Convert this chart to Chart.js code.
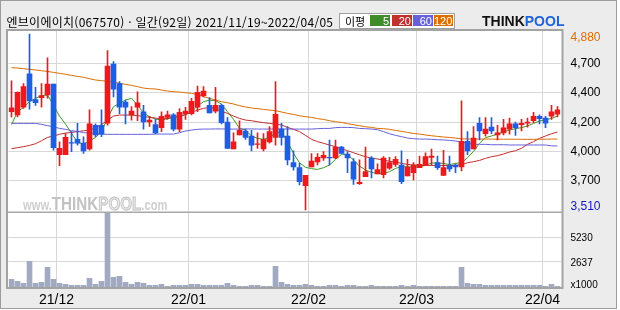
<!DOCTYPE html>
<html lang="ko">
<head>
<meta charset="utf-8">
<script src="https://cdn.jsdelivr.net/npm/chart.js@4.4.1/dist/chart.umd.min.js"></script>
<style>
  html, body { margin: 0; padding: 0; background: #fff; }
  #wrap { position: relative; width: 620px; height: 310px; overflow: hidden; }
  #c { position: absolute; left: 0; top: 0; }
  .h { position: absolute; top: 13px; height: 18px; line-height: 18px; white-space: nowrap;
       font-family: "Noto Sans CJK KR", sans-serif; font-size: 12px; color: #000; }
  #legend { position: absolute; left: 339px; top: 13px; width: 114px; height: 14px;
            border: 1px solid #a0a0a0; background: #fff; }
  #legend .lt { position: absolute; left: 5px; top: -2px; line-height: 18px;
                font-family: "Noto Sans CJK KR", sans-serif; font-size: 11px; }
  #legend .b { position: absolute; top: 1px; height: 11px; line-height: 12px; color: #fff; text-align: right;
               font-family: "Liberation Sans", Arial, sans-serif; font-size: 11px; padding-right: 1px; box-sizing: border-box; }
  #logo { position: absolute; left: 482px; top: 13px; line-height: 16px; white-space: nowrap;
          font-family: "Liberation Sans", Arial, sans-serif; font-weight: bold; font-size: 14px; }
  #logo .k { color: #111; }
  #logo .p { color: #1f63d6; }
</style>
</head>
<body>
<div id="wrap">
  <canvas id="c" width="620" height="310"></canvas>
  <span class="h" data-x0="6.5" data-x1="333">엔브이에이치(067570) · 일간(92일) 2021/11/19~2022/04/05</span>
  <div id="legend">
    <span class="lt">이평</span>
    <span class="b" style="left:30px;width:20px;background:#3f8c2c">5</span>
    <span class="b" style="left:52px;width:20px;background:#c0302c">20</span>
    <span class="b" style="left:73px;width:20px;background:#6660dc">60</span>
    <span class="b" style="left:94px;width:19px;background:#dc6e00">120</span>
  </div>
  <div id="logo"><span class="k">THINK</span><span class="p">POOL</span></div>
</div>
<script>
const dates = [
  '2021/11/19','2021/11/22','2021/11/23','2021/11/24','2021/11/25','2021/11/26','2021/11/29','2021/11/30',
  '2021/12/01','2021/12/02','2021/12/03','2021/12/06','2021/12/07','2021/12/08','2021/12/09','2021/12/10',
  '2021/12/13','2021/12/14','2021/12/15','2021/12/16','2021/12/17','2021/12/20','2021/12/21','2021/12/22',
  '2021/12/23','2021/12/24','2021/12/27','2021/12/28','2021/12/29','2021/12/30',
  '2022/01/03','2022/01/04','2022/01/05','2022/01/06','2022/01/07','2022/01/10','2022/01/11','2022/01/12',
  '2022/01/13','2022/01/14','2022/01/17','2022/01/18','2022/01/19','2022/01/20','2022/01/21','2022/01/24',
  '2022/01/25','2022/01/26','2022/01/27','2022/01/28',
  '2022/02/03','2022/02/04','2022/02/07','2022/02/08','2022/02/09','2022/02/10','2022/02/11','2022/02/14',
  '2022/02/15','2022/02/16','2022/02/17','2022/02/18','2022/02/21','2022/02/22','2022/02/23','2022/02/24',
  '2022/02/25','2022/02/28',
  '2022/03/02','2022/03/03','2022/03/04','2022/03/07','2022/03/08','2022/03/10','2022/03/11','2022/03/14',
  '2022/03/15','2022/03/16','2022/03/17','2022/03/18','2022/03/21','2022/03/22','2022/03/23','2022/03/24',
  '2022/03/25','2022/03/28','2022/03/29','2022/03/30','2022/03/31',
  '2022/04/01','2022/04/04','2022/04/05'
];

const open = [
  4275, 4250, 4310, 4570, 4370, 4385, 4405, 4490, 3940, 3940,
  4035, 4060, 4030, 3985, 4170, 4170, 4185, 4645, 4495, 4350,
  4250, 4310, 4275, 4195, 4175, 4150, 4230, 4250, 4140, 4260,
  4260, 4310, 4400, 4325, 4280, 4325, 4195, 3985, 4095, 4125,
  4085, 4020, 3985, 4040, 4075, 4140, 4085, 3880, 3840, 3700,
  3845, 3885, 3915, 3920, 3915, 4000, 3945, 3885, 3715, 3770,
  3915, 3790, 3785, 3835, 3865, 3860, 3775, 3800, 3840, 3855,
  3920, 3880, 3780, 3855, 3860, 3845, 4045, 3985, 4185, 4105,
  4155, 4095, 4110, 4140, 4180, 4175, 4185, 4205, 4240, 4225,
  4240, 4255
];
const high = [
  4515, 4430, 4495, 4880, 4465, 4495, 4695, 4490, 4040, 4105,
  4120, 4185, 4080, 4290, 4180, 4290, 4750, 4665, 4510, 4365,
  4315, 4430, 4325, 4240, 4215, 4275, 4280, 4260, 4300, 4310,
  4380, 4475, 4470, 4385, 4465, 4335, 4230, 4110, 4205, 4140,
  4130, 4110, 4105, 4160, 4510, 4185, 4160, 3970, 3875, 3780,
  3950, 3950, 3965, 4055, 4055, 4005, 3965, 3910, 3900, 4000,
  3925, 3870, 3925, 3920, 3925, 3970, 3905, 3880, 3930, 3955,
  3985, 3930, 3975, 3930, 3870, 4360, 4120, 4160, 4230, 4230,
  4230, 4170, 4215, 4225, 4195, 4215, 4225, 4270, 4250, 4240,
  4325, 4315
];
const low = [
  4235, 4235, 4300, 4295, 4325, 4310, 4380, 3975, 3855, 3940,
  3965, 4015, 3950, 3975, 4080, 4080, 4170, 4390, 4260, 4180,
  4210, 4205, 4140, 4160, 4105, 4120, 4215, 4125, 4120, 4215,
  4250, 4275, 4390, 4265, 4265, 4180, 3990, 3985, 4095, 4060,
  3970, 3990, 3970, 4030, 4015, 4015, 3860, 3820, 3705, 3510,
  3845, 3860, 3895, 3860, 3910, 3950, 3800, 3710, 3710, 3770,
  3760, 3790, 3760, 3825, 3850, 3715, 3775, 3745, 3840, 3855,
  3860, 3825, 3780, 3810, 3800, 3815, 3940, 3985, 4055, 4085,
  4105, 4055, 4095, 4100, 4090, 4125, 4155, 4190, 4180, 4150,
  4215, 4235
];
const close = [
  4305, 4425, 4470, 4360, 4345, 4400, 4490, 3995, 3990, 4075,
  4030, 4030, 3970, 4180, 4095, 4100, 4630, 4450, 4310, 4310,
  4280, 4345, 4195, 4210, 4110, 4240, 4250, 4140, 4270, 4280,
  4355, 4425, 4435, 4265, 4325, 4190, 3990, 4040, 4130, 4075,
  4015, 4025, 4060, 4120, 4255, 4075, 3900, 3845, 3730, 3780,
  3890, 3920, 3935, 3915, 4000, 3950, 3915, 3750, 3725, 3810,
  3830, 3825, 3915, 3880, 3905, 3730, 3845, 3860, 3865, 3925,
  3930, 3840, 3840, 3830, 3845, 4045, 3970, 4070, 4125, 4140,
  4125, 4110, 4150, 4180, 4150, 4185, 4195, 4240, 4220, 4185,
  4275, 4290
];
// volume in thousands of shares
const volume = [
  803, 593, 384, 2687, 384, 489, 2059, 803, 384, 279,
  175, 175, 175, 907, 279, 593, 7845, 1012, 1117, 489,
  279, 489, 384, 175, 175, 279, 70, 175, 175, 175,
  279, 279, 175, 175, 175, 175, 384, 175, 70, 70,
  175, 175, 70, 70, 2164, 489, 279, 175, 175, 279,
  175, 70, 70, 175, 175, 70, 175, 175, 70, 70,
  175, 70, 70, 70, 70, 175, 70, 175, 70, 70,
  70, 70, 70, 70, 70, 2059, 384, 279, 279, 175,
  175, 175, 175, 175, 175, 175, 175, 175, 175, 70,
  279, 70
];
const ma5 = [
  4175, 4275, 4309, 4353, 4379, 4400, 4405, 4327, 4241, 4179,
  4107, 4037, 4024, 4047, 4075, 4120, 4225, 4314, 4340, 4366,
  4379, 4327, 4267, 4236, 4218, 4210, 4221, 4231, 4239, 4252,
  4275, 4319, 4353, 4366, 4361, 4335, 4275, 4216, 4145, 4132,
  4086, 4068, 4060, 4075, 4107, 4120, 4042, 3951, 3878, 3842,
  3832, 3826, 3839, 3860, 3904, 3943, 3943, 3899, 3852, 3821,
  3803, 3795, 3795, 3808, 3834, 3847, 3847, 3842, 3847, 3857,
  3876, 3876, 3873, 3863, 3873, 3878, 3917, 3966, 4029, 4073,
  4086, 4101, 4117, 4132, 4143, 4151, 4164, 4184, 4203, 4213,
  4223, 4241
];
const ma20 = [
  3987, 3995, 4003, 4013, 4026, 4049, 4075, 4086, 4099, 4109,
  4114, 4120, 4127, 4132, 4151, 4174, 4210, 4241, 4249, 4249,
  4249, 4244, 4239, 4231, 4226, 4218, 4223, 4231, 4241, 4254,
  4270, 4288, 4301, 4309, 4299, 4278, 4262, 4241, 4223, 4210,
  4205, 4197, 4190, 4184, 4179, 4171, 4153, 4138, 4120, 4091,
  4060, 4042, 4029, 4016, 4003, 3987, 3972, 3956, 3940, 3925,
  3914, 3907, 3899, 3889, 3883, 3873, 3865, 3860, 3857, 3857,
  3857, 3856, 3856, 3857, 3857, 3863, 3878, 3886, 3896, 3912,
  3925, 3933, 3946, 3961, 3972, 3990, 4021, 4042, 4068, 4086,
  4104, 4117
];
const ma60 = [
  4184, 4184, 4184, 4184, 4184, 4177, 4166, 4158, 4145, 4138,
  4127, 4122, 4112, 4109, 4106, 4101, 4099, 4099, 4099, 4099,
  4099, 4099, 4099, 4099, 4101, 4101, 4101, 4101, 4112, 4125,
  4132, 4138, 4140, 4140, 4141, 4141, 4140, 4140, 4140, 4141,
  4141, 4140, 4140, 4140, 4141, 4141, 4140, 4140, 4140, 4140,
  4140, 4143, 4145, 4145, 4151, 4153, 4153, 4151, 4145, 4143,
  4140, 4135, 4120, 4104, 4091, 4081, 4070, 4065, 4062, 4062,
  4060, 4057, 4055, 4052, 4047, 4039, 4029, 4021, 4021, 4021,
  4018, 4018, 4018, 4016, 4016, 4016, 4016, 4016, 4016, 4016,
  4010, 4008
];
const ma120 = [
  4618, 4615, 4610, 4605, 4600, 4594, 4589, 4581, 4574, 4566,
  4558, 4550, 4543, 4532, 4522, 4517, 4511, 4506, 4496, 4488,
  4480, 4470, 4459, 4454, 4452, 4444, 4436, 4431, 4428, 4423,
  4418, 4408, 4392, 4379, 4366, 4353, 4345, 4335, 4322, 4312,
  4304, 4299, 4293, 4288, 4283, 4273, 4262, 4254, 4244, 4236,
  4231, 4221, 4215, 4205, 4197, 4192, 4182, 4174, 4166, 4158,
  4153, 4145, 4143, 4138, 4130, 4122, 4114, 4106, 4101, 4094,
  4088, 4083, 4078, 4075, 4070, 4064, 4063, 4063, 4062, 4062,
  4062, 4061, 4061, 4061, 4061, 4060, 4060, 4060, 4061, 4061,
  4062, 4062
];
const volTicks = [2637, 5230];

const UP = '#f0181c', DOWN = '#1e5ee6';
const candleColor = close.map((c, i) => c >= open[i] ? UP : DOWN);
const hi = Math.max(...high), lo = Math.min(...low);
// 6 equal bands between the period low and high
const priceGrid = [1, 2, 3, 4, 5].map(k => lo + k * (hi - lo) / 6);
const monthStart = dates.map((d, i) => i > 0 && d.slice(5, 7) !== dates[i - 1].slice(5, 7));
const fmt = n => n.toLocaleString('en-US');

// header text fitting
document.querySelectorAll('.h').forEach(el => {
  const x0 = +el.dataset.x0, x1 = +el.dataset.x1;
  el.style.left = x0 + 'px';
  const n = el.textContent.length;
  const w = el.getBoundingClientRect().width;
  el.style.letterSpacing = ((x1 - x0 - w) / (n - 1)) + 'px';
});

const panelBg = {
  id: 'panelBg',
  beforeDraw(chart) {
    const ctx = chart.ctx, a = chart.chartArea;
    ctx.save();
    ctx.fillStyle = '#fff';
    ctx.fillRect(0, 0, chart.width, chart.height);
    ctx.fillStyle = '#ececec';
    ctx.fillRect(0, 0, 617, 309);
    ctx.fillStyle = '#fff';
    ctx.fillRect(a.left - 1, a.top, a.width + 3, a.height);
    ctx.restore();
  },
  beforeDatasetsDraw(chart) {
    // watermark
    const ctx = chart.ctx, y = chart.scales.y;
    const base = y.bottom - 2;
    ctx.save();
    ctx.translate(23, base);
    ctx.scale(0.8, 1);
    let x = 0;
    ctx.textBaseline = 'alphabetic';
    ctx.font = 'bold 14px "Liberation Sans", Arial, sans-serif';
    ctx.fillStyle = '#cfcfcf';
    ctx.fillText('www.', x, 0);
    x += ctx.measureText('www.').width;
    ctx.font = 'bold 19px "Liberation Sans", Arial, sans-serif';
    ctx.fillStyle = '#c2c2c2';
    ctx.fillText('THINK', x, 0);
    x += ctx.measureText('THINK').width;
    ctx.fillStyle = '#e8e8e8';
    ctx.strokeStyle = '#c2c2c2';
    ctx.lineWidth = 1;
    ctx.fillText('POOL', x, 0);
    ctx.strokeText('POOL', x, 0);
    x += ctx.measureText('POOL').width;
    ctx.font = 'bold 14px "Liberation Sans", Arial, sans-serif';
    ctx.fillStyle = '#cfcfcf';
    ctx.fillText('.com', x, 0);
    ctx.restore();
  },
  afterDraw(chart) {
    const ctx = chart.ctx, a = chart.chartArea, y = chart.scales.y, v = chart.scales.yv;
    ctx.save();
    // frame + separator
    ctx.strokeStyle = '#a3a3a3';
    ctx.lineWidth = 2;
    ctx.strokeRect(7, 30, a.right + 2 - 7, a.bottom + 1 - 30);
    ctx.fillStyle = '#a8a8a8';
    ctx.fillRect(8, y.bottom - 0.5, a.right - 6, 1.5);
    ctx.strokeStyle = '#9c9c9c';
    ctx.lineWidth = 1;
    ctx.strokeRect(0.5, 0.5, 616, 308);
    // right axis labels
    const x = a.right + 10;
    ctx.textAlign = 'left';
    ctx.textBaseline = 'middle';
    ctx.font = '12px "Liberation Sans", Arial, sans-serif';
    ctx.fillStyle = '#000';
    priceGrid.forEach(p => ctx.fillText(fmt(Math.round(p / 100) * 100), x, y.getPixelForValue(p) + 0.5));
    ctx.fillStyle = '#dc6e00';
    ctx.fillText(fmt(hi), x, Math.max(y.getPixelForValue(hi), y.top + 7));
    ctx.fillStyle = '#1414c0';
    ctx.fillText(fmt(lo), x, Math.min(y.getPixelForValue(lo), y.bottom - 5));
    ctx.font = '10px "Liberation Sans Narrow", "Liberation Sans", Arial, sans-serif';
    ctx.fillStyle = '#000';
    volTicks.forEach(t => ctx.fillText(String(t), x, v.getPixelForValue(t) + 1.5));
    ctx.fillText('x1000', x, v.bottom - 1.5);
    ctx.restore();
  }
};

const maLine = (data, color) => ({
  type: 'line', data, yAxisID: 'y', borderColor: color, borderWidth: 1,
  pointRadius: 0, tension: 0, order: 3
});

new Chart(document.getElementById('c'), {
  type: 'bar',
  data: {
    labels: dates,
    datasets: [
      { data: volume, yAxisID: 'yv', backgroundColor: '#a2aac2', barThickness: 5, grouped: false, order: 5 },
      maLine(ma120, '#dc6e00'),
      maLine(ma60, '#6660dc'),
      maLine(ma20, '#c0302c'),
      maLine(ma5, '#3c9a28'),
      { data: low.map((l, i) => [l, high[i]]), yAxisID: 'y', backgroundColor: candleColor,
        barThickness: 1, grouped: false, order: 2 },
      { data: open.map((o, i) => [o, close[i]]), yAxisID: 'y', backgroundColor: candleColor,
        barThickness: 5, grouped: false, order: 1 }
    ]
  },
  options: {
    responsive: false,
    animation: false,
    events: [],
    layout: { padding: { left: 8.5, top: 31, right: 0, bottom: 0 } },
    plugins: { legend: { display: false }, tooltip: { enabled: false } },
    scales: {
      x: {
        type: 'category',
        offset: true,
        border: { display: false },
        grid: {
          offset: true,
          drawTicks: false,
          color: ctx => monthStart[ctx.index] ? '#d8d8d8' : 'rgba(0,0,0,0)'
        },
        ticks: {
          autoSkip: false,
          maxRotation: 0,
          labelOffset: -3,
          padding: 5,
          color: '#000',
          font: { family: '"Liberation Sans", Arial, sans-serif', size: 14 },
          callback: (v, i) => monthStart[i] ? dates[i].slice(2, 7) : ''
        },
        afterFit: s => { s.height = 23; }
      },
      y: {
        type: 'linear',
        position: 'right',
        stack: 'panel',
        stackWeight: 181,
        min: lo - (hi - lo) * 2 / 176,
        max: hi + (hi - lo) * 3 / 176,
        border: { display: false },
        grid: { color: '#d8d8d8', drawTicks: false },
        ticks: { display: false },
        afterBuildTicks: s => { s.ticks = priceGrid.map(value => ({ value })); },
        afterFit: s => { s.width = 59.5; }
      },
      yv: {
        type: 'linear',
        position: 'right',
        stack: 'panel',
        stackWeight: 75,
        min: 0,
        max: Math.max(...volume),
        border: { display: false },
        grid: { color: '#d8d8d8', drawTicks: false },
        ticks: { display: false },
        afterBuildTicks: s => { s.ticks = volTicks.map(value => ({ value })); },
        afterFit: s => { s.width = 59.5; }
      }
    }
  },
  plugins: [panelBg]
});
</script>
</body>
</html>
